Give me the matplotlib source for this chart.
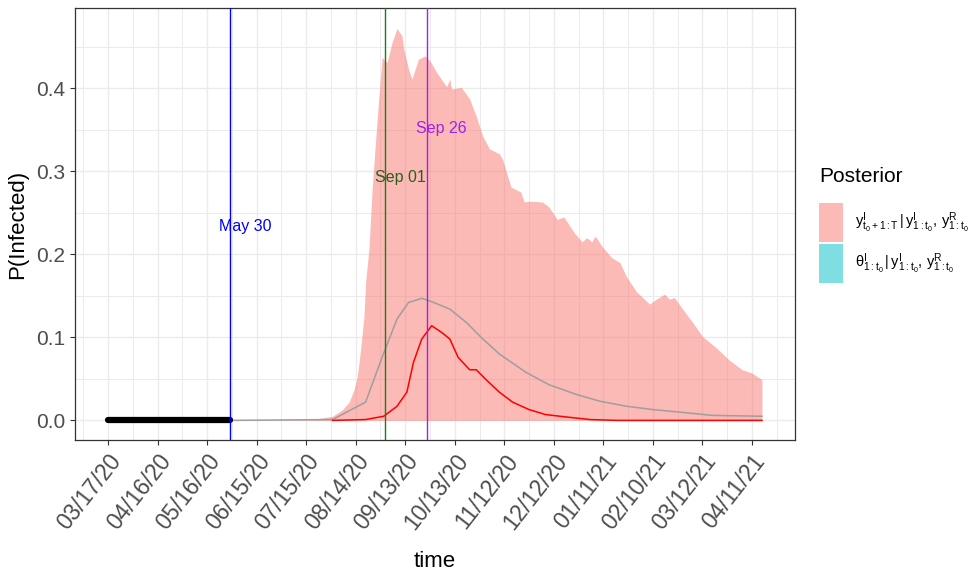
import datetime as dt
import matplotlib
matplotlib.use("Agg")
import matplotlib.pyplot as plt
import matplotlib.dates as mdates
from matplotlib.patches import Patch
import numpy as np

plt.rcParams["font.family"] = ["Liberation Sans", "DejaVu Sans"]
plt.rcParams["mathtext.fontset"] = "custom"
plt.rcParams["mathtext.rm"] = "Liberation Sans"
plt.rcParams["mathtext.it"] = "Liberation Sans"
plt.rcParams["mathtext.default"] = "regular"

# observed window (before t0)
obs_dates = ["2020-03-17", "2020-05-30"]
obs_values = [0.0, 0.0]

# upper edge of the posterior predictive band
band_dates = ["2020-05-30", "2020-07-19", "2020-07-31", "2020-08-06", "2020-08-10", "2020-08-13",
              "2020-08-15", "2020-08-17", "2020-08-19", "2020-08-20", "2020-08-22", "2020-08-24",
              "2020-08-27", "2020-08-30", "2020-09-02", "2020-09-05", "2020-09-08", "2020-09-11",
              "2020-09-12", "2020-09-15", "2020-09-17", "2020-09-21", "2020-09-25", "2020-09-28",
              "2020-10-02", "2020-10-08", "2020-10-10", "2020-10-11", "2020-10-17", "2020-10-22",
              "2020-10-26", "2020-10-30", "2020-11-03", "2020-11-09", "2020-11-11", "2020-11-16",
              "2020-11-19", "2020-11-22", "2020-11-24", "2020-11-27", "2020-12-05", "2020-12-09",
              "2020-12-14", "2020-12-18", "2020-12-24", "2020-12-29", "2021-01-01", "2021-01-04",
              "2021-01-06", "2021-01-10", "2021-01-16", "2021-01-21", "2021-01-25", "2021-01-31",
              "2021-02-08", "2021-02-12", "2021-02-17", "2021-02-20", "2021-02-23", "2021-02-28",
              "2021-03-06", "2021-03-12", "2021-03-20", "2021-03-28", "2021-04-05", "2021-04-11",
              "2021-04-17"]
band_upper = [0.0, 0.001, 0.005, 0.013, 0.022, 0.037,
              0.053, 0.086, 0.125, 0.166, 0.206, 0.280,
              0.363, 0.437, 0.431, 0.455, 0.472, 0.463,
              0.448, 0.423, 0.411, 0.435, 0.439, 0.433,
              0.419, 0.402, 0.411, 0.399, 0.401, 0.387,
              0.366, 0.342, 0.327, 0.321, 0.314, 0.281,
              0.278, 0.275, 0.263, 0.264, 0.263, 0.257,
              0.242, 0.245, 0.227, 0.215, 0.220, 0.215,
              0.222, 0.210, 0.196, 0.190, 0.173, 0.155,
              0.140, 0.146, 0.152, 0.146, 0.148, 0.134,
              0.118, 0.101, 0.088, 0.073, 0.061, 0.057,
              0.049]

# posterior mean
mean_dates = ["2020-05-30", "2020-07-31", "2020-08-20", "2020-08-30", "2020-09-08", "2020-09-15",
              "2020-09-23", "2020-09-29", "2020-10-10", "2020-10-20", "2020-10-30", "2020-11-09",
              "2020-11-25", "2020-12-09", "2020-12-26", "2021-01-09", "2021-01-25", "2021-02-10",
              "2021-02-26", "2021-03-18", "2021-04-17"]
mean_values = [0.0, 0.001, 0.022, 0.076, 0.122, 0.142,
               0.147, 0.143, 0.134, 0.118, 0.098, 0.080,
               0.058, 0.043, 0.031, 0.023, 0.017, 0.013,
               0.010, 0.006, 0.005]

# latent infection curve
theta_dates = ["2020-07-31", "2020-08-20", "2020-08-31", "2020-09-08", "2020-09-14", "2020-09-18",
               "2020-09-23", "2020-09-26", "2020-09-29", "2020-10-05", "2020-10-10", "2020-10-15",
               "2020-10-22", "2020-10-26", "2020-11-01", "2020-11-09", "2020-11-17", "2020-11-27",
               "2020-12-07", "2020-12-20", "2021-01-03", "2021-01-19", "2021-04-17"]
theta_values = [0.0, 0.001, 0.005, 0.017, 0.034, 0.070,
                0.098, 0.106, 0.114, 0.106, 0.098, 0.076,
                0.061, 0.061, 0.049, 0.034, 0.022, 0.013,
                0.007, 0.004, 0.001, 0.0, 0.0]

events = ["2020-05-30", "2020-09-01", "2020-09-26"]
event_labels = ["May 30", "Sep 01", "Sep 26"]
event_colors = ["blue", "#1f7a1f", "#A020F0"]
event_text_colors = ["blue", "#2b5e1a", "#A020F0"]
event_text_y = [0.233, 0.293, 0.352]

to_dt = lambda s: [np.datetime64(d) for d in s]

fig = plt.figure(figsize=(9.71, 5.84), dpi=100)
ax = fig.add_axes([0.0772, 0.2466, 0.7415, 0.7397])

ax.fill_between(to_dt(band_dates), 0, band_upper, color="#F8766D", alpha=0.5, linewidth=0, zorder=2)
ax.plot(to_dt(mean_dates), mean_values, color="#9e9e9e", lw=1.1, zorder=3)
ax.plot(to_dt(theta_dates), theta_values, color="red", lw=1.1, zorder=4)
ax.plot(to_dt(obs_dates), obs_values, color="black", lw=4.5, solid_capstyle="round", zorder=5)

for d, lab, c, tc, ty in zip(events, event_labels, event_colors, event_text_colors, event_text_y):
    ax.axvline(np.datetime64(d), color=c, lw=1.0, zorder=6)
    ax.text(np.datetime64(d) + np.timedelta64(9, "D"), ty, lab, color=tc,
            fontsize=11.5, ha="center", va="center", zorder=7)

start = dt.date(2020, 3, 17)
major = [start + dt.timedelta(days=30 * k) for k in range(14)]
minor = [start + dt.timedelta(days=15 + 30 * k) for k in range(-1, 14)]
ax.set_xticks(major)
ax.set_xticks(minor, minor=True)
ax.xaxis.set_major_formatter(mdates.DateFormatter("%m/%d/%y"))
ax.set_xlim(np.datetime64("2020-03-17") - np.timedelta64(20, "D"),
            np.datetime64("2021-04-17") + np.timedelta64(20, "D"))

ax.set_yticks([0.0, 0.1, 0.2, 0.3, 0.4])
ax.set_yticks([0.05, 0.15, 0.25, 0.35, 0.45], minor=True)
ax.set_yticklabels(["0.0", "0.1", "0.2", "0.3", "0.4"])
ax.set_ylim(-0.0236, 0.4966)

ax.grid(which="major", color="#EBEBEB", lw=1.0, zorder=0)
ax.grid(which="minor", color="#EBEBEB", lw=0.7, zorder=0)
ax.set_axisbelow(True)
for s in ax.spines.values():
    s.set_color("#333333")
    s.set_linewidth(0.9)

ax.tick_params(which="major", direction="out", length=3.5, width=0.8, color="#333333",
               labelcolor="#4D4D4D", labelsize=15)
ax.tick_params(axis="x", which="major", labelsize=16.5)
ax.tick_params(which="minor", length=0)
plt.setp(ax.get_xticklabels(), rotation=52, ha="right", rotation_mode="anchor")

ax.set_xlabel("time", fontsize=16, labelpad=12)
ax.set_ylabel("P(Infected)", fontsize=16, labelpad=6)

labels = [r"$y^{I}_{t_0+1:T}\,|\,y^{I}_{1:t_0},\,y^{R}_{1:t_0}$",
          r"$\theta^{I}_{1:t_0}\,|\,y^{I}_{1:t_0},\,y^{R}_{1:t_0}$"]
handles = [Patch(facecolor="#F8766D", alpha=0.5, edgecolor="none"),
           Patch(facecolor="#00BFC4", alpha=0.5, edgecolor="none")]
leg = ax.legend(handles, labels, loc="upper left", bbox_to_anchor=(1.025, 0.645),
                title="Posterior", title_fontsize=15, fontsize=10.5, frameon=False,
                handlelength=1.65, handleheight=3.7, labelspacing=0.2, handletextpad=0.8,
                borderaxespad=0)
leg._legend_box.align = "left"
leg._legend_box.sep = 12

fig.savefig("out.png", dpi=100)
